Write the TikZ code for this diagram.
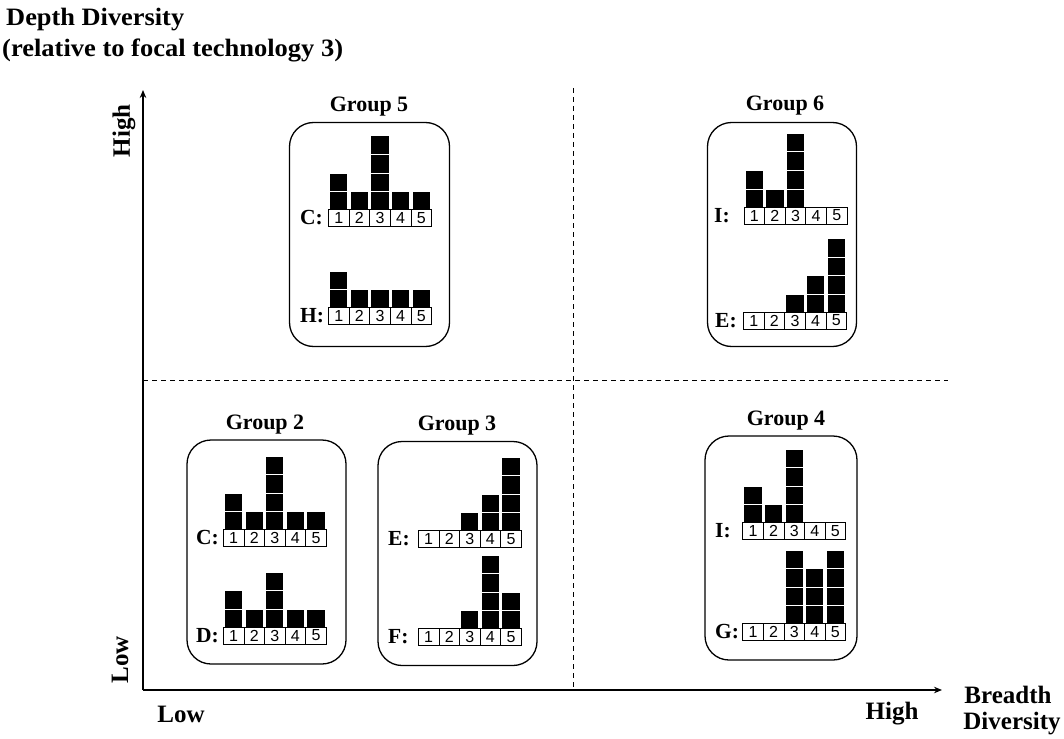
\documentclass[tikz,border=0pt]{standalone}
\usepackage{fontspec}
\setmainfont{Liberation Serif}
\newfontfamily\numfont{Liberation Sans}
\usetikzlibrary{arrows.meta}
\newcommand{\drawchart}[6]{% #1 name, #2 left x, #3 top y, #4 letter, #5 heights, #6 label x
  \node[rowlab] (#1-lab) at (#6,{#3+8.5}) {#4:};
  \foreach \h [count=\i] in {#5} {
    \node[numcell] (#1-\i) at ({#2+(\i-0.5)*20.6},{#3+8.5}) {\i};
    \ifnum\h>0
      \foreach \k in {1,...,\h}{
        \fill ({#2+(\i-1)*20.6+1.7},{#3-(\k-1)*18.5}) rectangle ({#2+\i*20.6-1.7},{#3-\k*18.5+1});
      }
    \fi
  }
}
\begin{document}
\begin{tikzpicture}[x=1pt,y=-1pt,
  gbox/.style={draw, rounded corners=24pt, line width=1.3pt, minimum height=224pt, inner sep=0},
  gtitle/.style={font=\bfseries\fontsize{22}{24}\selectfont, inner sep=0},
  axlab/.style={font=\bfseries\fontsize{25}{27}\selectfont, inner sep=0},
  rowlab/.style={font=\bfseries\fontsize{21.5}{23}\selectfont, anchor=west, inner sep=0},
  numcell/.style={draw, line width=0.7pt, minimum width=20.6pt, minimum height=17pt, inner sep=0, font=\numfont\fontsize{16}{16}\selectfont},
  axis/.style={line width=1.4pt, -{Stealth[length=8pt,width=6.5pt]}},
  divider/.style={line width=1pt, dash pattern=on 5pt off 4pt}]
\useasboundingbox (0,0) rectangle (1064,738);
% headings
\node[axlab, anchor=west, xscale=1.055] (ht1) at (6,20) {Depth Diversity};
\node[axlab, anchor=west, xscale=1.06] (ht2) at (2,50) {(relative to focal technology 3)};
% axes
\coordinate (o) at (143,690);
\coordinate (ytip) at (143,90);
\coordinate (xtip) at (942,690);
\draw[axis] (o) -- (ytip);
\draw[axis] (o) -- (xtip);
\coordinate (vd1) at (573,88);
\coordinate (vd2) at (573,690);
\coordinate (hd1) at (143,380);
\coordinate (hd2) at (948,380);
\draw[divider] (vd1) -- (vd2);
\draw[divider] (hd1) -- (hd2);
% axis labels
\node[axlab, rotate=90] (yhigh) at (124,131) {High};
\node[axlab, rotate=90] (ylow) at (120,660) {Low};
\node[axlab] (xlow) at (181,714) {Low};
\node[axlab] (xhigh) at (892,714) {High};
\node[axlab] (xb1) at (1008,695) {Breadth};
\node[axlab] (xb2) at (1012,724) {Diversity};
% group boxes
\node[gbox, minimum width=160pt] (g5) at (369.5,234.5) {};
\node[gtitle] (g5t) at (369,107) {Group 5};
\node[gbox, minimum width=149pt] (g6) at (782,234.5) {};
\node[gtitle] (g6t) at (785,106) {Group 6};
\node[gbox, minimum width=159pt] (g2) at (266.5,552) {};
\node[gtitle] (g2t) at (265,425) {Group 2};
\node[gbox, minimum width=159pt] (g3) at (457.5,553.5) {};
\node[gtitle] (g3t) at (457,426) {Group 3};
\node[gbox, minimum width=152pt] (g4) at (781,548) {};
\node[gtitle] (g4t) at (786,421) {Group 4};
% charts
\drawchart{g5c}{328.5}{209.5}{C}{2,1,4,1,1}{300}
\drawchart{g5h}{328.5}{307.5}{H}{2,1,1,1,1}{300}
\drawchart{g6i}{744}{207}{I}{2,1,4,0,0}{714}
\drawchart{g6e}{743.5}{312}{E}{0,0,1,2,4}{715}
\drawchart{g2c}{223.3}{529.5}{C}{2,1,4,1,1}{196}
\drawchart{g2d}{223.3}{627}{D}{2,1,3,1,1}{196}
\drawchart{g3e}{418.3}{530.5}{E}{0,0,1,2,4}{388}
\drawchart{g3f}{418.3}{628.5}{F}{0,0,1,4,2}{388}
\drawchart{g4i}{742.7}{522.5}{I}{2,1,4,0,0}{715}
\drawchart{g4g}{742.7}{623.5}{G}{0,0,4,3,4}{715}
\end{tikzpicture}
\end{document}
